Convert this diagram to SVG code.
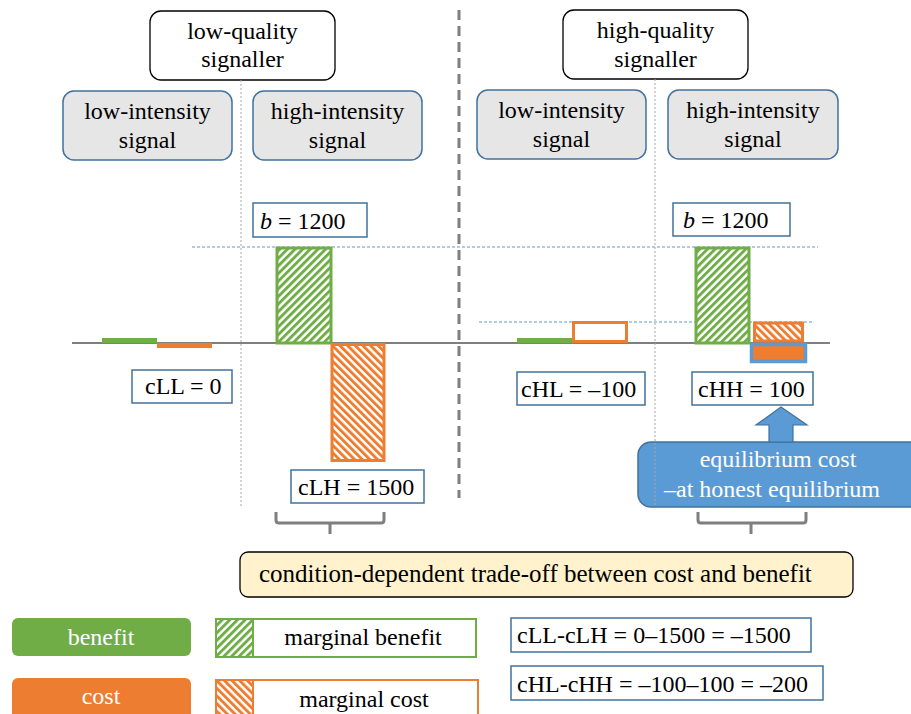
<svg xmlns="http://www.w3.org/2000/svg" width="911" height="714" viewBox="0 0 911 714" font-family="'Liberation Serif', 'DejaVu Serif', serif" font-size="24">
<defs>
<pattern id="hatchG" patternUnits="userSpaceOnUse" width="5.4" height="5.4" patternTransform="rotate(45)"><rect width="5.4" height="5.4" fill="#fff"/><rect width="2.9" height="5.4" fill="#70ad47"/></pattern>
<pattern id="hatchO" patternUnits="userSpaceOnUse" width="5.4" height="5.4" patternTransform="rotate(-45)"><rect width="5.4" height="5.4" fill="#fff"/><rect width="2.9" height="5.4" fill="#ed7d31"/></pattern>
<style>
.hdr{fill:#fff;stroke:#000;stroke-width:1.3}
.sig{fill:#e7e6e6;stroke:#41719c;stroke-width:1.5}
.lbl{fill:#fff;stroke:#41719c;stroke-width:1.5}
.mid{text-anchor:middle}
.w{fill:#fff}
.vdot{stroke:#a6a6a6;stroke-width:1;stroke-dasharray:2 2;fill:none}
.hdot{stroke:#5b9bd5;stroke-width:1;stroke-dasharray:3 2;fill:none}
.brk{stroke:#7f7f7f;stroke-width:3;fill:none}
.gH{fill:url(#hatchG);stroke:#70ad47;stroke-width:3}
.oH{fill:url(#hatchO);stroke:#ed7d31;stroke-width:3}
</style>
</defs>
<rect width="911" height="714" fill="#fff"/>

<!-- axis and guides -->
<line x1="72" y1="343" x2="830" y2="343" stroke="#000" stroke-width="1.2"/>
<line x1="192" y1="247" x2="818" y2="247" class="hdot"/>
<line x1="479" y1="322" x2="813" y2="322" class="hdot"/>
<line x1="459" y1="10" x2="459" y2="498" stroke="#7f7f7f" stroke-width="3" stroke-dasharray="10 6"/>

<!-- headers -->
<g id="low-quality-signaller">
<rect x="150" y="11" width="185" height="69" rx="11" class="hdr"/>
<text x="242.5" y="39" class="mid">low-quality</text>
<text x="242.5" y="67" class="mid">signaller</text>
</g>
<g id="high-quality-signaller">
<rect x="563" y="10" width="185" height="69" rx="11" class="hdr"/>
<text x="655.5" y="38" class="mid">high-quality</text>
<text x="655.5" y="67" class="mid">signaller</text>
</g>
<g id="LL-signal">
<rect x="63" y="91" width="169" height="69" rx="11" class="sig"/>
<text x="147.5" y="119" class="mid">low-intensity</text>
<text x="147.5" y="148" class="mid">signal</text>
</g>
<g id="LH-signal">
<rect x="253" y="91" width="169" height="69" rx="11" class="sig"/>
<text x="337.5" y="119" class="mid">high-intensity</text>
<text x="337.5" y="148" class="mid">signal</text>
</g>
<g id="HL-signal">
<rect x="477" y="90" width="169" height="69" rx="11" class="sig"/>
<text x="561.5" y="118" class="mid">low-intensity</text>
<text x="561.5" y="147" class="mid">signal</text>
</g>
<g id="HH-signal">
<rect x="668" y="90" width="170" height="69" rx="11" class="sig"/>
<text x="753" y="118" class="mid">high-intensity</text>
<text x="753" y="147" class="mid">signal</text>
</g>

<!-- bars -->
<g id="bars-LL">
<rect x="102" y="338" width="55" height="5" fill="#70ad47"/>
<rect x="157" y="343" width="55" height="5" fill="#ed7d31"/>
</g>
<g id="bars-LH">
<rect x="277" y="248" width="54" height="95" class="gH"/>
<rect x="332" y="344.5" width="52" height="116" class="oH"/>
</g>
<g id="bars-HL">
<rect x="517" y="338" width="55" height="5" fill="#70ad47"/>
<rect x="573.5" y="322.5" width="53" height="19" fill="#fff" stroke="#ed7d31" stroke-width="3"/>
</g>
<g id="bars-HH">
<rect x="696" y="248" width="53" height="95" class="gH"/>
<rect x="754.5" y="323" width="48" height="18" class="oH"/>
<rect x="751.5" y="344.5" width="54" height="17" fill="#ed7d31" stroke="#5b9bd5" stroke-width="3.5"/>
</g>

<!-- value labels -->
<g id="b-left">
<rect x="253" y="203" width="114" height="34" class="lbl"/>
<text x="260" y="229"><tspan font-style="italic">b</tspan> = 1200</text>
</g>
<g id="b-right">
<rect x="673" y="203" width="117" height="33" class="lbl"/>
<text x="683" y="228"><tspan font-style="italic">b</tspan> = 1200</text>
</g>
<g id="cLL">
<rect x="132" y="370" width="100" height="33" class="lbl"/>
<text x="145" y="394">cLL = 0</text>
</g>
<g id="cLH">
<rect x="291" y="470" width="133" height="33" class="lbl"/>
<text x="298" y="495">cLH = 1500</text>
</g>
<g id="cHL">
<rect x="517" y="372" width="128" height="33" class="lbl"/>
<text x="521" y="397">cHL = –100</text>
</g>
<g id="cHH">
<rect x="692" y="372" width="121" height="33" class="lbl"/>
<text x="698" y="397">cHH = 100</text>
</g>

<!-- callout -->
<g id="equilibrium-callout">
<rect x="638" y="442" width="290" height="65" rx="13" fill="#5b9bd5" stroke="#41719c" stroke-width="1.5"/>
<text x="778" y="467" class="mid w">equilibrium cost</text>
<text x="772" y="497" class="mid w">–at honest equilibrium</text>
</g>

<!-- dotted separators -->
<line x1="241" y1="80" x2="241" y2="508" class="vdot"/>
<line x1="655" y1="79" x2="655" y2="506" class="vdot"/>

<!-- connectors -->
<g id="connectors">
<polygon points="781,407 807,425 793,425 793,442 769,442 769,425 756,425" fill="#5b9bd5" stroke="#41719c" stroke-width="1.2"/>
<path class="brk" d="M276 512 V520 Q276 523 279 523 H381 Q384 523 384 520 V512 M330 523 V534"/>
<path class="brk" d="M698 512 V520 Q698 523 701 523 H803 Q806 523 806 520 V512 M751 523 V534"/>
</g>

<!-- trade-off box -->
<g id="trade-off">
<rect x="240" y="552" width="613" height="45" rx="8" fill="#fff2cc" stroke="#000" stroke-width="1.3"/>
<text x="259" y="582" font-size="25">condition-dependent trade-off between cost and benefit</text>
</g>

<!-- legend -->
<g id="legend-benefit">
<rect x="12" y="618" width="179" height="38" rx="6" fill="#70ad47"/>
<text x="101" y="645" class="mid w">benefit</text>
</g>
<g id="legend-cost">
<rect x="12" y="678" width="179" height="44" rx="6" fill="#ed7d31"/>
<text x="101" y="704" class="mid w">cost</text>
</g>
<g id="legend-marginal-benefit">
<rect x="216" y="619" width="260" height="38" fill="#fff" stroke="#70ad47" stroke-width="2"/>
<rect x="217" y="620" width="36" height="36" fill="url(#hatchG)"/>
<line x1="253" y1="619" x2="253" y2="657" stroke="#70ad47" stroke-width="2"/>
<text x="363" y="645" class="mid">marginal benefit</text>
</g>
<g id="legend-marginal-cost">
<rect x="216" y="680" width="262" height="44" fill="#fff" stroke="#ed7d31" stroke-width="2"/>
<rect x="217" y="681" width="36" height="40" fill="url(#hatchO)"/>
<line x1="253" y1="680" x2="253" y2="724" stroke="#ed7d31" stroke-width="2"/>
<text x="364" y="707" class="mid">marginal cost</text>
</g>
<g id="diff-low">
<rect x="511" y="618" width="300" height="34" class="lbl"/>
<text x="517" y="643">cLL-cLH = 0–1500 = –1500</text>
</g>
<g id="diff-high">
<rect x="511" y="666" width="312" height="34" class="lbl"/>
<text x="517" y="692">cHL-cHH = –100–100 = –200</text>
</g>
</svg>
